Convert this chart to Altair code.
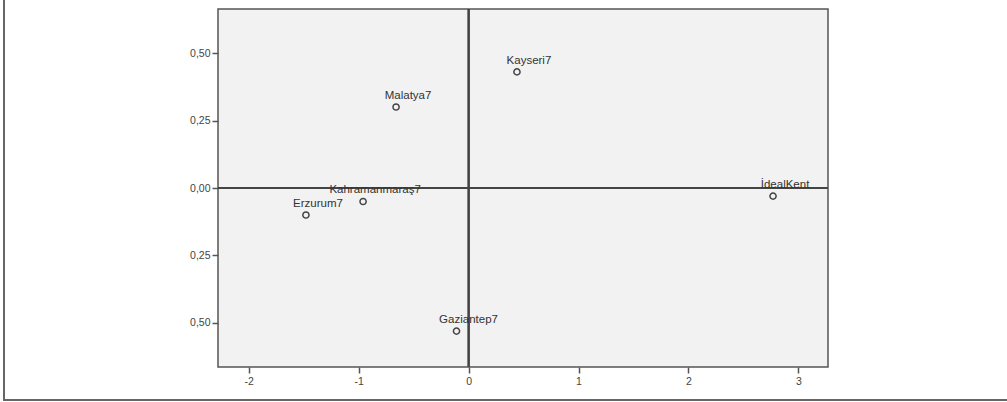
import altair as alt
import pandas as pd

# Object scores on two dimensions
cities = ["Malatya7", "Kayseri7", "İdealKent", "Kahramanmaraş7", "Erzurum7", "Gaziantep7"]
dim1 = [-0.66, 0.44, 2.77, -0.96, -1.48, -0.11]
dim2 = [0.30, 0.43, -0.03, -0.05, -0.10, -0.53]

df = pd.DataFrame({"city": cities, "d1": dim1, "d2": dim2})

x_ticks = [-2, -1, 0, 1, 2, 3]
y_ticks = [-0.5, -0.25, 0, 0.25, 0.5]

FONT = "Liberation Sans"

x_scale = alt.Scale(domain=[-2.28, 3.27], nice=False, zero=False)
y_scale = alt.Scale(domain=[-0.663, 0.663], nice=False, zero=False)

x_enc = alt.X("d1:Q", scale=x_scale, title=None,
              axis=alt.Axis(values=x_ticks, domain=False, grid=False,
                            labelExpr="datum.value < 0 ? '-' + abs(datum.value) : '' + datum.value",
                            tickSize=6, tickWidth=1.5, tickColor="#555",
                            labelFontSize=10.5, labelColor="#444", labelFont=FONT,
                            labelPadding=3))
y_enc = alt.Y("d2:Q", scale=y_scale, title=None,
              axis=alt.Axis(values=y_ticks, domain=False, grid=False,
                            labelExpr="replace(format(abs(datum.value), '.2f'), '.', ',')",
                            tickSize=6, tickWidth=1.5, tickColor="#555",
                            labelFontSize=10.5, labelColor="#444", labelFont=FONT,
                            labelPadding=2))

base = alt.Chart(df)

zero_v = alt.Chart(df).mark_rule(color="#444", strokeWidth=1.5).encode(x=alt.datum(0, scale=x_scale))
zero_h = alt.Chart(df).mark_rule(color="#444", strokeWidth=1.5).encode(y=alt.datum(0, scale=y_scale))

points = base.mark_point(shape="circle", filled=False, size=38, strokeWidth=1.5,
                         color="#444", opacity=1).encode(x=x_enc, y=y_enc)

labels = base.mark_text(font=FONT, fontSize=11.5, color="#333", align="center",
                        baseline="alphabetic", dx=12, dy=-8).encode(
    x=alt.X("d1:Q", scale=x_scale), y=alt.Y("d2:Q", scale=y_scale), text="city:N")

# Outer frame lines along the left and bottom edges of the figure
frame_left = alt.Chart(df).mark_rule(color="#666", strokeWidth=2).encode(
    x=alt.value(-214), y=alt.value(-9), y2=alt.value(391))
frame_bottom = alt.Chart(df).mark_rule(color="#666", strokeWidth=2).encode(
    x=alt.value(-215), x2=alt.value(789), y=alt.value(391))

chart = alt.layer(zero_v, zero_h, points, labels, frame_left, frame_bottom).properties(
    width=610, height=358,
    padding={"left": 218, "top": 9, "right": 179, "bottom": 35},
    autosize="none",
    background="white",
).configure_view(fill="#f2f2f2", stroke="#555", strokeWidth=1.5)

chart.save("out.html", embed_options={"renderer": "svg", "actions": False})
